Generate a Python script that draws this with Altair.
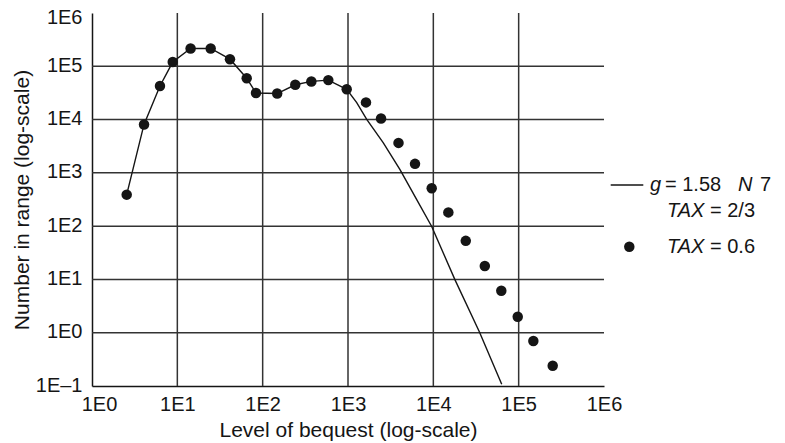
import altair as alt
import pandas as pd

# Simulated bequest distribution, TAX = 0.6 (dots)
dot_bequest = [2.55, 4.07, 6.26, 8.83, 14.3, 24.6, 41.4, 65, 83.5, 148, 241, 372, 588, 966,
               1625, 2438, 3908, 6100, 9570, 15000, 24000, 40100, 62600, 97500, 148600, 250600]
dot_count = [390, 8100, 42700, 120000, 216000, 216000, 136000, 59700, 31600, 30800, 45000,
             52000, 55000, 37000, 21000, 10500, 3650, 1476, 513, 181, 53, 17.9, 6.15, 2.0,
             0.70, 0.24]

# Fitted curve, g = 1.58, TAX = 2/3 (solid line)
line_bequest = [2.55, 4.07, 6.26, 8.83, 14.3, 24.6, 41.4, 65, 83.5, 148, 241, 372, 588, 966,
                1265, 1657, 2594, 4067, 6387, 9570, 17950, 34600, 63300]
line_count = [390, 8100, 42700, 120000, 216000, 216000, 136000, 59700, 31600, 30800, 45000,
              52000, 55000, 37000, 20800, 10090, 3670, 1153, 314, 98.7, 9.8, 1.04, 0.108]

# Axis ticks and grid positions
x_ticks = [1, 10, 100, 1000, 10000, 100000, 1000000]
x_tick_labels = ["1E0", "1E1", "1E2", "1E3", "1E4", "1E5", "1E6"]
y_ticks = [0.1, 1, 10, 100, 1000, 10000, 100000, 1000000]
y_tick_labels = ["1E\u20131", "1E0", "1E1", "1E2", "1E3", "1E4", "1E5", "1E6"]
x_grid = [10, 100, 1000, 10000, 100000]
y_grid = [1, 10, 100, 1000, 10000, 100000]

W, H = 512, 373
FONT = "Liberation Sans"
TICK_FS = 20
TITLE_FS = 21
LEG_FS = 20
INK = "#151515"


def label_expr(values, labels):
    expr = "''"
    for v, lab in reversed(list(zip(values, labels))):
        expr = f"datum.value == {v} ? '{lab}' : ({expr})"
    return expr


x_scale = alt.Scale(type="log", domain=[1, 1000000], nice=False)
y_scale = alt.Scale(type="log", domain=[0.1, 1000000], nice=False)

x_axis = alt.Axis(
    values=x_ticks, labelExpr=label_expr(x_ticks, x_tick_labels), grid=False, ticks=False,
    labelFlush=False, labelPadding=8, labelFont=FONT, labelFontSize=TICK_FS, labelColor=INK,
    labelOffset={"condition": {"test": "datum.value == 1", "value": 7}, "value": 0},
    domainColor=INK, domainWidth=1.5,
    title="Level of bequest (log-scale)", titleFont=FONT, titleFontSize=TITLE_FS,
    titleFontWeight="normal", titleColor=INK, titleX=W / 2, titleY=50,
    titleBaseline="alphabetic", titleAlign="center",
)
y_axis = alt.Axis(
    values=y_ticks, labelExpr=label_expr(y_ticks, y_tick_labels), grid=False, ticks=False,
    labelPadding=10, labelFont=FONT, labelFontSize=TICK_FS, labelColor=INK,
    labelOffset={"condition": {"test": "datum.value == 1000000", "value": 4}, "value": -1},
    domainColor=INK, domainWidth=1.5,
    title="Number in range (log-scale)", titleFont=FONT, titleFontSize=TITLE_FS,
    titleFontWeight="normal", titleColor=INK, titleX=-70, titleY=H / 2,
    titleAngle=-90, titleBaseline="middle", titleAlign="center",
)

xgrid_df = pd.DataFrame({"x": x_grid})
ygrid_df = pd.DataFrame({"y": y_grid})
dots_df = pd.DataFrame({"bequest": dot_bequest, "count": dot_count})
line_df = pd.DataFrame({"bequest": line_bequest, "count": line_count})

vgrid = alt.Chart(xgrid_df).mark_rule(color="#333", strokeWidth=1.5).encode(
    x=alt.X("x:Q", scale=x_scale, axis=x_axis),
    y=alt.value(0), y2=alt.value(H),
)
hgrid = alt.Chart(ygrid_df).mark_rule(color="#333", strokeWidth=1.5).encode(
    y=alt.Y("y:Q", scale=y_scale, axis=y_axis),
    x=alt.value(0), x2=alt.value(W),
)
curve = alt.Chart(line_df).mark_line(color=INK, strokeWidth=1.4, clip=True).encode(
    x=alt.X("bequest:Q", scale=x_scale),
    y=alt.Y("count:Q", scale=y_scale),
    order=alt.Order("bequest:Q"),
)
dots = alt.Chart(dots_df).mark_circle(color=INK, opacity=1, size=110).encode(
    x=alt.X("bequest:Q", scale=x_scale),
    y=alt.Y("count:Q", scale=y_scale),
)

# Legend drawn beside the plot
one = pd.DataFrame({"k": [0]})


def legend_text(txt, x, y, italic=False):
    return alt.Chart(one).mark_text(
        font=FONT, fontSize=LEG_FS, color=INK, align="left", baseline="alphabetic",
        fontStyle="italic" if italic else "normal",
    ).encode(x=alt.value(x), y=alt.value(y), text=alt.value(txt))


leg_line = alt.Chart(one).mark_rule(color=INK, strokeWidth=1.4).encode(
    x=alt.value(518.7), x2=alt.value(551.3), y=alt.value(172)
)
leg_dot = alt.Chart(one).mark_circle(color=INK, opacity=1, size=110).encode(
    x=alt.value(537.3), y=alt.value(233.7)
)
legend = [
    leg_line,
    legend_text("g", 558, 177.5, True),
    legend_text("= 1.58", 573, 177.5),
    legend_text("N", 646, 177.5, True),
    legend_text("7", 668, 177.5),
    legend_text("TAX", 575, 203.7, True),
    legend_text("= 2/3", 618, 203.7),
    leg_dot,
    legend_text("TAX", 575, 239.7, True),
    legend_text("= 0.6", 618, 239.7),
]

chart = alt.layer(vgrid, hgrid, curve, dots, *legend).properties(
    width=W, height=H,
    autosize=alt.AutoSizeParams(type="none"),
    padding={"left": 92, "top": 13, "right": 181, "bottom": 57},
    background="white",
).configure_view(stroke=None)

chart.save("out.html", embed_options={"renderer": "svg", "actions": False})
